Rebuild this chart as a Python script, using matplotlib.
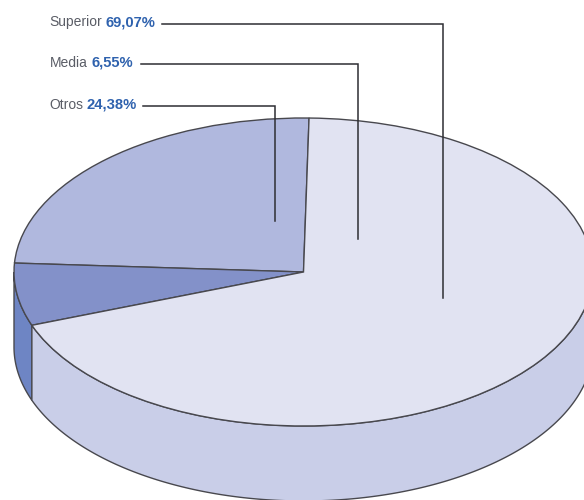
import numpy as np
import matplotlib
matplotlib.use("Agg")
import matplotlib.pyplot as plt
from matplotlib.patches import Polygon

labels = ["Otros", "Media", "Superior"]
values = [24.38, 6.55, 69.07]
value_text = ["24,38%", "6,55%", "69,07%"]
top_colors = ["#B0B8DE", "#8391C9", "#E1E3F2"]
side_colors = ["#9FA9D6", "#6E85C4", "#C9CEE8"]

W, H = 584, 500
CX, CY, RX, RY, DEPTH = 303.5, 272.0, 289.5, 154.0, 75.0
START = 88.9
EDGE = "#48484E"

fig = plt.figure(figsize=(W / 100, H / 100), dpi=100)
ax = fig.add_axes([0, 0, 1, 1])
wedges, _ = ax.pie(values, colors=top_colors, startangle=START, counterclock=True,
                   radius=1.0, center=(0, 0),
                   wedgeprops=dict(edgecolor=EDGE, linewidth=1.0, zorder=3))
for w in wedges:
    w.set_zorder(3)
ax.set_aspect("auto")
ax.set_xlim(-CX / RX, (W - CX) / RX)
ax.set_ylim(-(H - CY) / RY, CY / RY)
ax.axis("off")

# side wall of the disc, for the part of each slice on the near half
d = DEPTH / RY
angle = START
for val, col in zip(values, side_colors):
    a0, a1 = angle, angle + val * 3.6
    angle = a1
    lo, hi = max(a0, 180), min(a1, 360)
    if hi <= lo:
        continue
    t = np.radians(np.linspace(lo, hi, 200))
    x, y = np.cos(t), np.sin(t)
    pts = np.r_[np.c_[x, y], np.c_[x[::-1], y[::-1] - d]]
    ax.add_patch(Polygon(pts, closed=True, facecolor=col, edgecolor=EDGE,
                         linewidth=1.0, zorder=2))

# overlay in pixel coordinates for the labels and leader lines
ov = fig.add_axes([0, 0, 1, 1], facecolor="none")
ov.set_xlim(0, W)
ov.set_ylim(H, 0)
ov.axis("off")

label_y = [106, 64, 23.5]
line_x0 = [143, 141, 162]
line_x1 = [275, 358, 443]
line_y1 = [221, 239, 298]
value_x = [86.5, 92, 106]
for i, name in enumerate(labels):
    y = label_y[i]
    ov.plot([line_x0[i], line_x1[i], line_x1[i]], [y, y, line_y1[i]],
            color="#2E2E33", lw=1.1, solid_joinstyle="miter", zorder=5)
    ov.text(49.5, y - 1.2, name, fontsize=10.0, color="#5A5D66", va="center", ha="left",
            family=["Liberation Sans Narrow", "Liberation Sans"])
    ov.text(value_x[i], y - 1.2, value_text[i], fontsize=10.6, color="#2F62AE",
            fontweight="bold", va="center", ha="left",
            family=["Liberation Sans Narrow", "Liberation Sans"])

fig.savefig("out.png", dpi=100)
